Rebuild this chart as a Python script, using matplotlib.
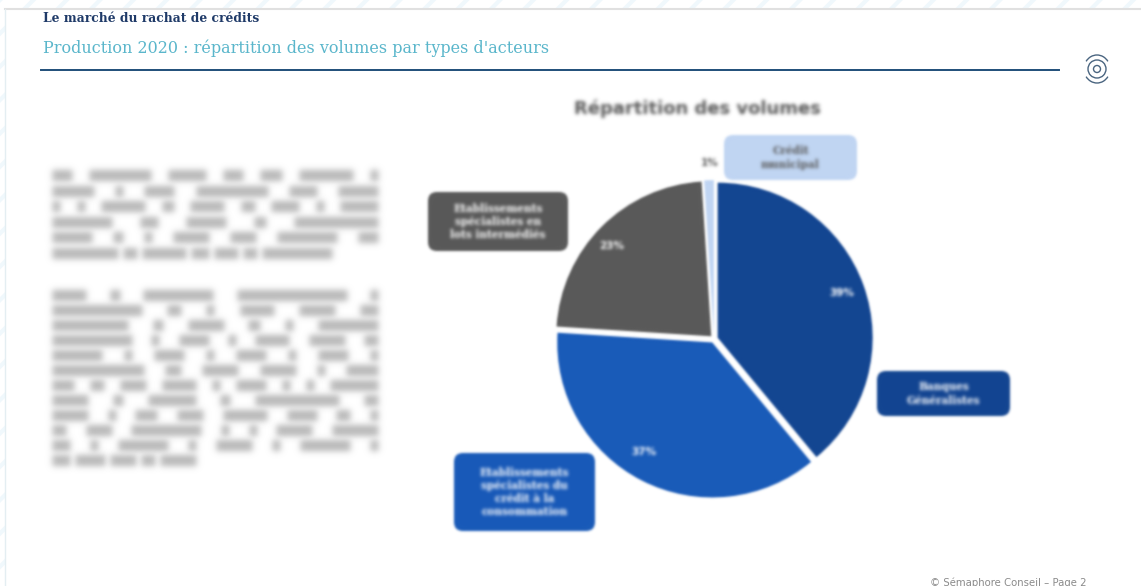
# -*- coding:utf-8 -*-
import numpy as np
import matplotlib
matplotlib.use("Agg")
import matplotlib.pyplot as plt
from matplotlib.patches import Rectangle, FancyBboxPatch, Circle, Arc

# donnees
categories = ["Banques\nGénéralistes",
              "Etablissements\nspécialistes du\ncrédit à la\nconsommation",
              "Etablissements\nspécialistes en\nlots intermédiés",
              "Crédit\nmunicipal"]
values = [39, 37, 23, 1]
colors = ["#124591", "#185ab8", "#595959", "#c0d5f3"]
label_colors = ["white", "white", "white", "#595959"]
chart_title = "Répartition des volumes"
page_kicker = "Le marché du rachat de crédits"
page_title = "Production 2020 : répartition des volumes par types d'acteurs"
footer = "© Sémaphore Conseil – Page 2"

# longueur des mots du texte illisible (flou dans l'original)
para1 = [[20, 62, 38, 20, 22, 54, 8], [42, 8, 30, 72, 28, 40], [8, 8, 44, 12, 34, 14, 28, 8, 38],
         [60, 18, 40, 12, 84], [40, 10, 8, 36, 26, 60, 20], [66, 14, 44, 18, 24, 14, 70]]
para2 = [[34, 10, 70, 110, 8], [90, 14, 8, 34, 36, 18], [76, 10, 36, 12, 8, 60], [80, 8, 30, 8, 34, 36, 14],
         [50, 8, 30, 8, 30, 8, 30, 8], [92, 16, 36, 36, 8, 32], [22, 14, 26, 34, 8, 30, 8, 8, 48],
         [36, 10, 48, 10, 84, 14], [36, 8, 22, 26, 44, 30, 14, 8], [14, 26, 70, 8, 8, 36, 46],
         [18, 8, 50, 8, 36, 8, 50, 8], [18, 30, 26, 14, 36]]


def blur(sigma):
    # petit flou gaussien pour agg_filter
    r = int(3 * sigma) + 1
    k = np.exp(-np.arange(-r, r + 1) ** 2 / (2.0 * sigma ** 2))
    k = k / k.sum()

    def f(img, dpi):
        a = np.zeros((img.shape[0] + 2 * r, img.shape[1] + 2 * r, 4))
        a[r:-r, r:-r, 3] = img[:, :, 3]
        a[r:-r, r:-r, :3] = img[:, :, :3] * img[:, :, 3:4]
        a = np.apply_along_axis(lambda m: np.convolve(m, k, mode="same"), 0, a)
        a = np.apply_along_axis(lambda m: np.convolve(m, k, mode="same"), 1, a)
        al = np.clip(a[:, :, 3:4], 1e-4, 1)
        a[:, :, :3] = np.clip(a[:, :, :3] / al, 0, 1)
        return a, -r, -r
    return f


plt.rcParams["hatch.linewidth"] = 3
fig = plt.figure(figsize=(11.41, 5.86), dpi=100)
ax = fig.add_axes([0, 0, 1, 1])
ax.set_xlim(0, 1141)
ax.set_ylim(586, 0)
ax.axis("off")

# fond de page
ax.add_patch(Rectangle((0, 0), 1141, 8, fc="white", ec="#f0f8fc", hatch="/", lw=0))
ax.add_patch(Rectangle((0, 0), 5, 586, fc="white", ec="#f0f8fc", hatch="/", lw=0))
ax.plot([5, 1141], [9, 9], color="#e0e0e0", lw=1.5)
ax.plot([5, 5], [9, 586], color="#e4eef2", lw=1)

# entete
ax.text(43, 18, page_kicker, family="DejaVu Serif", weight="bold", fontsize=8.8, color="#1f3a68", va="center")
ax.text(43, 48, page_title, family="DejaVu Serif", fontsize=11.55, color="#5ab6cb", va="center")
ax.plot([41, 1059], [70, 70], color="#1f4e79", lw=1.4)
ax.text(1087, 583, footer, fontsize=7.3, color="#8a8a8a", ha="right", va="center")

# logo
ax.add_patch(Circle((1097, 69), 3.5, fill=False, ec="#4a6580", lw=1))
ax.add_patch(Circle((1097, 69), 9, fill=False, ec="#4a6580", lw=1))
ax.add_patch(Arc((1097, 69), 26, 28, theta1=215, theta2=325, ec="#4a6580", lw=1))
ax.add_patch(Arc((1097, 69), 26, 28, theta1=35, theta2=145, ec="#4a6580", lw=1))

# paragraphes floutes
for lines, y0, dy in [(para1, 175, 15.6), (para2, 295, 15)]:
    for i, words in enumerate(lines):
        gap = 5.0
        if i < len(lines) - 1:
            gap = (326.0 - sum(words)) / max(len(words) - 1, 1)
        x = 52.0
        for w in words:
            ln, = ax.plot([x, x + w], [y0 + i * dy] * 2, color="#b8b8b8", lw=8, solid_capstyle="butt")
            ln.set_agg_filter(blur(3.2))
            x += w + gap

ax.text(697, 109, chart_title, fontsize=13, weight="bold", color="#595959", ha="center",
        va="center").set_agg_filter(blur(1.8))

# camembert
cx, cy, r = 714, 339, 155
size = 2.5 * r
pie_ax = fig.add_axes([(cx - size / 2) / 1141, 1 - (cy + size / 2) / 586, size / 1141, size / 586])
wedges, texts, autotexts = pie_ax.pie(values, colors=colors, startangle=90, counterclock=False,
                                      explode=[0.025] * 4, autopct="%d%%", pctdistance=0.85,
                                      textprops={"fontsize": 7.5, "weight": "bold", "color": "white"})
pie_ax.patch.set_alpha(0)
autotexts[1].set_position((-0.45, -0.73))
autotexts[2].set_position((-0.66, 0.60))
autotexts[3].set_color("#595959")
autotexts[3].set_position((-0.03, 1.135))
for w in wedges:
    w.set_agg_filter(blur(1.1))
for t in autotexts:
    t.set_agg_filter(blur(1.6))

# etiquettes
box_x = [877, 454, 428, 724]
box_y = [371, 453, 192, 135]
box_w = [133, 141, 140, 133]
box_h = [45, 78, 59, 45]
for i in range(4):
    p = FancyBboxPatch((box_x[i] + 7, box_y[i] + 7), box_w[i] - 14, box_h[i] - 14,
                       boxstyle="round,pad=7,rounding_size=9", fc=colors[i], ec="none")
    p.set_agg_filter(blur(1.2))
    ax.add_patch(p)
    ax.text(box_x[i] + box_w[i] / 2, box_y[i] + box_h[i] / 2, categories[i], fontsize=7.6, weight="bold",
            family="DejaVu Serif", color=label_colors[i], ha="center", va="center",
            linespacing=1.25).set_agg_filter(blur(1.7))

fig.savefig("out.png", dpi=100)
